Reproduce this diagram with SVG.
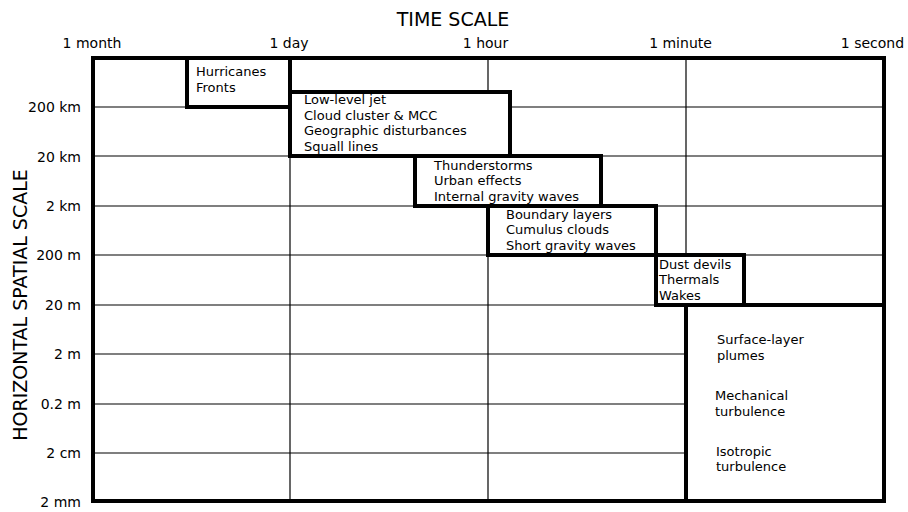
<svg xmlns="http://www.w3.org/2000/svg" width="908" height="512" viewBox="0 0 908 512">
<style>
text{font-family:"DejaVu Sans","Liberation Sans",sans-serif;fill:#000}
.title{font-size:19px}
.tick{font-size:14px}
.yt{font-size:14px;text-anchor:end}
.tt{font-size:14px;text-anchor:middle}
.lbl{font-size:13px}
.grid line{stroke:#000;stroke-width:1.2}
.box{fill:#fff;stroke:#000;stroke-width:4}
</style>
<rect width="908" height="512" fill="#fff"/>
<g id="grid" class="grid">
<line x1="93" y1="107" x2="884" y2="107"/>
<line x1="93" y1="156" x2="884" y2="156"/>
<line x1="93" y1="206" x2="884" y2="206"/>
<line x1="93" y1="255" x2="884" y2="255"/>
<line x1="93" y1="305" x2="884" y2="305"/>
<line x1="93" y1="354" x2="884" y2="354"/>
<line x1="93" y1="404" x2="884" y2="404"/>
<line x1="93" y1="453" x2="884" y2="453"/>
<line x1="290" y1="58" x2="290" y2="501" stroke="#444"/>
<line x1="488" y1="58" x2="488" y2="501" stroke="#444"/>
<line x1="686" y1="58" x2="686" y2="501" stroke="#444"/>
</g>
<g id="hurricanes">
<rect class="box" x="187" y="58" width="103" height="49"/>
<text class="lbl" x="196" y="76">Hurricanes</text>
<text class="lbl" x="196" y="92">Fronts</text>
</g>
<g id="jet">
<rect class="box" x="290" y="92" width="220" height="64"/>
<text class="lbl" x="304" y="104">Low-level jet</text>
<text class="lbl" x="304" y="119.5">Cloud cluster &amp; MCC</text>
<text class="lbl" x="304" y="135">Geographic disturbances</text>
<text class="lbl" x="304" y="150.5">Squall lines</text>
</g>
<g id="thunderstorms">
<rect class="box" x="415" y="156" width="186" height="50"/>
<text class="lbl" x="434" y="169.5">Thunderstorms</text>
<text class="lbl" x="434" y="185">Urban effects</text>
<text class="lbl" x="434" y="200.5">Internal gravity waves</text>
</g>
<g id="boundary">
<rect class="box" x="488" y="206" width="168" height="49"/>
<text class="lbl" x="506" y="218.5">Boundary layers</text>
<text class="lbl" x="506" y="234">Cumulus clouds</text>
<text class="lbl" x="506" y="249.5">Short gravity waves</text>
</g>
<g id="dust">
<rect class="box" x="656" y="255" width="88" height="50"/>
<text class="lbl" x="659" y="268.5">Dust devils</text>
<text class="lbl" x="659" y="284">Thermals</text>
<text class="lbl" x="659" y="299.5">Wakes</text>
</g>
<g id="turbulence">
<rect class="box" x="686" y="305" width="198" height="196"/>
<text class="lbl" x="717" y="344">Surface-layer</text>
<text class="lbl" x="717" y="359.5">plumes</text>
<text class="lbl" x="715" y="400">Mechanical</text>
<text class="lbl" x="715" y="415.5">turbulence</text>
<text class="lbl" x="716" y="455.5">Isotropic</text>
<text class="lbl" x="716" y="471">turbulence</text>
</g>
<rect id="frame" x="93" y="58" width="791" height="443" fill="none" stroke="#000" stroke-width="4"/>
<g id="axes">
<text class="title" x="453" y="26" text-anchor="middle">TIME SCALE</text>
<text class="title" transform="translate(27,305) rotate(-90)" text-anchor="middle">HORIZONTAL SPATIAL SCALE</text>
<text class="tt" x="92" y="48">1 month</text>
<text class="tt" x="289" y="48">1 day</text>
<text class="tt" x="485.5" y="48">1 hour</text>
<text class="tt" x="680.5" y="48">1 minute</text>
<text class="tt" x="872.5" y="48">1 second</text>
<text class="yt" x="81" y="112">200 km</text>
<text class="yt" x="81" y="161.5">20 km</text>
<text class="yt" x="81" y="211">2 km</text>
<text class="yt" x="81" y="260">200 m</text>
<text class="yt" x="81" y="310">20 m</text>
<text class="yt" x="81" y="359">2 m</text>
<text class="yt" x="81" y="409">0.2 m</text>
<text class="yt" x="81" y="458">2 cm</text>
<text class="yt" x="81" y="507">2 mm</text>
</g>
</svg>
